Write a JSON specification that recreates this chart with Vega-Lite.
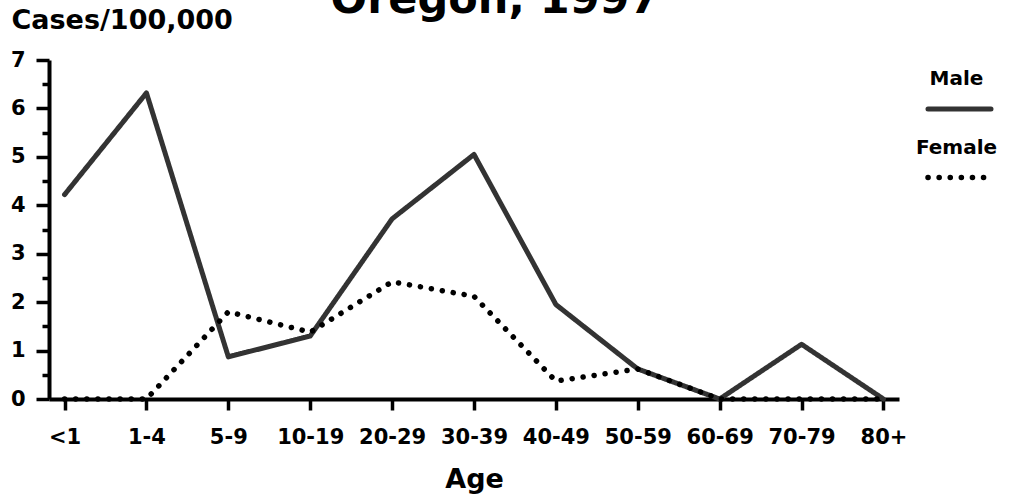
{
  "$schema": "https://vega.github.io/schema/vega-lite/v6.json",
  "width": 850,
  "height": 339,
  "autosize": {"type": "none"},
  "padding": {"left": 49, "top": 60, "right": 111, "bottom": 98},
  "background": "white",
  "config": {
    "view": {"stroke": null},
    "font": "DejaVu Sans"
  },
  "title": {
    "text": "Oregon, 1997",
    "fontSize": 43,
    "fontWeight": "bold",
    "font": "DejaVu Sans",
    "color": "#000000",
    "anchor": "middle",
    "baseline": "alphabetic",
    "offset": 0,
    "dx": 21,
    "dy": 50
  },
  "data": {
    "values": [
      {"age": "<1", "sex": "Male", "rate": 4.22},
      {"age": "1-4", "sex": "Male", "rate": 6.32},
      {"age": "5-9", "sex": "Male", "rate": 0.87},
      {"age": "10-19", "sex": "Male", "rate": 1.3},
      {"age": "20-29", "sex": "Male", "rate": 3.72},
      {"age": "30-39", "sex": "Male", "rate": 5.05},
      {"age": "40-49", "sex": "Male", "rate": 1.95},
      {"age": "50-59", "sex": "Male", "rate": 0.62},
      {"age": "60-69", "sex": "Male", "rate": 0},
      {"age": "70-79", "sex": "Male", "rate": 1.13},
      {"age": "80+", "sex": "Male", "rate": 0},
      {"age": "<1", "sex": "Female", "rate": 0},
      {"age": "1-4", "sex": "Female", "rate": 0},
      {"age": "5-9", "sex": "Female", "rate": 1.8},
      {"age": "10-19", "sex": "Female", "rate": 1.38},
      {"age": "20-29", "sex": "Female", "rate": 2.42},
      {"age": "30-39", "sex": "Female", "rate": 2.12},
      {"age": "40-49", "sex": "Female", "rate": 0.37},
      {"age": "50-59", "sex": "Female", "rate": 0.62},
      {"age": "60-69", "sex": "Female", "rate": 0},
      {"age": "70-79", "sex": "Female", "rate": 0},
      {"age": "80+", "sex": "Female", "rate": 0}
    ]
  },
  "mark": {"type": "line", "strokeCap": "round", "strokeJoin": "round"},
  "encoding": {
    "x": {
      "field": "age",
      "type": "ordinal",
      "sort": ["<1", "1-4", "5-9", "10-19", "20-29", "30-39", "40-49", "50-59", "60-69", "70-79", "80+"],
      "scale": {"type": "point", "padding": 0.19},
      "axis": {
        "title": "Age",
        "titleFont": "DejaVu Sans",
        "titleFontSize": 27,
        "titleFontWeight": "bold",
        "titleColor": "#000000",
        "titleBaseline": "alphabetic",
        "titleY": 88,
        "labelAngle": 0,
        "labelFont": "DejaVu Sans",
        "labelFontSize": 21,
        "labelFontWeight": "bold",
        "labelColor": "#000000",
        "labelPadding": 16,
        "labelFlush": false,
        "domainColor": "#000000",
        "domainWidth": 4,
        "tickColor": "#000000",
        "tickWidth": 3.5,
        "tickSize": 11,
        "grid": false
      }
    },
    "y": {
      "field": "rate",
      "type": "quantitative",
      "scale": {"domain": [0, 7], "nice": false, "zero": true},
      "axis": {
        "title": "Cases/100,000",
        "titleFont": "DejaVu Sans",
        "titleFontSize": 27,
        "titleFontWeight": "bold",
        "titleColor": "#000000",
        "titleAngle": 0,
        "titleAlign": "left",
        "titleBaseline": "alphabetic",
        "titleX": -38,
        "titleY": -32,
        "values": [0, 0.5, 1, 1.5, 2, 2.5, 3, 3.5, 4, 4.5, 5, 5.5, 6, 6.5, 7],
        "labelExpr": "datum.value % 1 === 0 ? toString(datum.value) : ''",
        "labelFont": "DejaVu Sans",
        "labelFontSize": 21,
        "labelFontWeight": "bold",
        "labelColor": "#000000",
        "labelPadding": 11,
        "domainColor": "#000000",
        "domainWidth": 4,
        "tickColor": "#000000",
        "tickWidth": 3.5,
        "tickSize": {"condition": {"test": "datum.value % 1 === 0", "value": 13}, "value": 7},
        "grid": false
      }
    },
    "color": {
      "field": "sex",
      "type": "nominal",
      "sort": ["Male", "Female"],
      "scale": {"domain": ["Male", "Female"], "range": ["#333333", "#000000"]},
      "legend": {
        "title": null,
        "orient": "none",
        "legendX": 876,
        "legendY": 15,
        "symbolType": "stroke",
        "symbolSize": 3969,
        "symbolStrokeWidth": 6,
        "labelFont": "DejaVu Sans",
        "labelFontSize": 20,
        "labelFontWeight": "bold",
        "labelColor": "#000000",
        "labelAlign": "center",
        "labelBaseline": "alphabetic",
        "rowPadding": 18,
        "encode": {
          "labels": {"update": {"x": {"value": 31.5}, "dy": {"value": -24}}},
          "symbols": {"update": {"strokeCap": {"value": "round"}}}
        }
      }
    },
    "strokeDash": {
      "field": "sex",
      "type": "nominal",
      "sort": ["Male", "Female"],
      "scale": {"domain": ["Male", "Female"], "range": [[1, 0], [0.1, 11]]}
    },
    "strokeWidth": {
      "field": "sex",
      "type": "nominal",
      "scale": {"domain": ["Male", "Female"], "range": [5, 5.5]},
      "legend": null
    }
  }
}
